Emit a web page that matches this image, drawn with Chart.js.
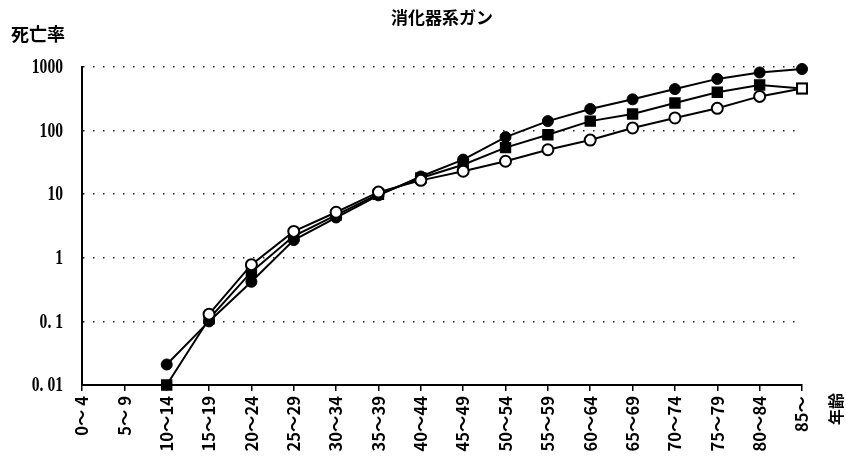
<!DOCTYPE html>
<html lang="ja">
<head>
<meta charset="utf-8">
<title>消化器系ガン</title>
<script src="https://cdn.jsdelivr.net/npm/chart.js@4/dist/chart.umd.min.js"></script>
<style>
  html, body { margin: 0; padding: 0; background: #fff; }
  canvas { display: block; }
</style>
</head>
<body>
<canvas id="chart" width="846" height="457"></canvas>
<script>
// Age groups (x axis)
const ageGroups = ["0～ 4", "5～ 9", "10～14", "15～19", "20～24", "25～29", "30～34", "35～39",
  "40～44", "45～49", "50～54", "55～59", "60～64", "65～69", "70～74", "75～79", "80～84", "85～"];

// Mortality rates per age group
const rateFilledCircle = [null, null, 0.021, 0.10, 0.42, 1.9, 4.3, 9.6, 19, 35, 79, 141, 219, 310, 450, 650, 820, 930];
const rateFilledSquare = [null, null, 0.01, 0.11, 0.6, 2.2, 4.7, 10, 18, 29, 54, 86, 141, 182, 272, 400, 520, 460];
const rateOpenCircle   = [null, null, null, 0.13, 0.78, 2.6, 5.2, 10.8, 16.5, 23, 33, 50, 71, 110, 158, 224, 345, 460];

// Log-scale ticks and their labels
const yTickValues = [0.01, 0.1, 1, 10, 100, 1000];
const yTickLabels = ["0. 01", "0. 1", "1", "10", "100", "1000"];

const chartTitle = "消化器系ガン";
const yAxisTitle = "死亡率";
const xAxisTitle = "年齢";

const lastIdx = ageGroups.length - 1;

const textPlugin = {
  id: "texts",
  afterDraw(chart) {
    const ctx = chart.ctx;
    const area = chart.chartArea;
    const yScale = chart.scales.y;
    ctx.save();
    ctx.fillStyle = "#000";

    // title
    ctx.font = 'bold 17px "Noto Sans CJK JP"';
    ctx.textAlign = "center";
    ctx.textBaseline = "middle";
    ctx.fillText(chartTitle, (area.left + area.right) / 2, 18);

    // y axis title
    ctx.font = 'bold 18px "Noto Sans CJK JP"';
    ctx.textAlign = "left";
    ctx.fillText(yAxisTitle, 11, 34);

    // y tick labels, condensed
    ctx.font = 'bold 20px "Liberation Serif"';
    ctx.textAlign = "right";
    yTickValues.forEach((v, i) => {
      const y = yScale.getPixelForValue(v);
      ctx.save();
      ctx.translate(area.left - 19, y);
      ctx.scale(0.78, 1);
      ctx.fillText(yTickLabels[i], 0, 1);
      ctx.restore();
    });

    // x axis title, rotated like the category labels
    ctx.save();
    ctx.translate(836, 393);
    ctx.rotate(-Math.PI / 2);
    ctx.font = 'bold 16px "Noto Sans CJK JP"';
    ctx.textAlign = "right";
    ctx.fillText(xAxisTitle, 0, 0);
    ctx.restore();

    ctx.restore();
  }
};

new Chart(document.getElementById("chart"), {
  type: "line",
  data: {
    labels: ageGroups,
    datasets: [
      {
        label: "open",
        data: rateOpenCircle,
        order: 0,
        borderColor: "#000",
        borderWidth: 2,
        pointStyle: ageGroups.map((_, i) => i === lastIdx ? "rect" : "circle"),
        pointRadius: ageGroups.map((_, i) => i === lastIdx ? 7 : 5.5),
        pointBackgroundColor: "#fff",
        pointBorderColor: "#000",
        pointBorderWidth: 2,
        tension: 0,
        clip: false
      },
      {
        label: "square",
        data: rateFilledSquare,
        order: 1,
        borderColor: "#000",
        borderWidth: 2,
        pointStyle: "rect",
        pointRadius: 7,
        pointBackgroundColor: ageGroups.map((_, i) => i === lastIdx ? "#fff" : "#000"),
        pointBorderColor: "#000",
        pointBorderWidth: 1.5,
        tension: 0,
        clip: false
      },
      {
        label: "filled",
        data: rateFilledCircle,
        order: 2,
        borderColor: "#000",
        borderWidth: 2,
        pointStyle: "circle",
        pointRadius: 5.5,
        pointBackgroundColor: "#000",
        pointBorderColor: "#000",
        pointBorderWidth: 1,
        tension: 0,
        clip: false
      }
    ]
  },
  options: {
    responsive: false,
    animation: false,
    devicePixelRatio: 1,
    layout: { padding: { top: 67, right: 44, left: 0, bottom: 0 } },
    plugins: {
      legend: { display: false },
      title: { display: false },
      tooltip: { enabled: false }
    },
    scales: {
      x: {
        type: "category",
        offset: false,
        afterFit(scale) { scale.height = 72; },
        grid: {
          display: true,
          drawOnChartArea: false,
          drawTicks: true,
          tickLength: 6,
          color: "#000",
          lineWidth: 1.5,
          offset: false
        },
        border: { display: true, color: "#000", width: 2 },
        ticks: {
          autoSkip: false,
          maxRotation: 90,
          minRotation: 90,
          padding: 5,
          color: "#000",
          font: { family: "'Noto Sans CJK JP'", size: 16.5, weight: "bold" }
        }
      },
      y: {
        type: "logarithmic",
        min: 0.01,
        max: 1000,
        afterBuildTicks(scale) { scale.ticks = yTickValues.map(v => ({ value: v })); },
        afterFit(scale) { scale.width = 82; },
        grid: {
          color: "#222",
          lineWidth: 1.5,
          drawTicks: false
        },
        border: { display: true, color: "#000", width: 2, dash: [1.5, 8.5] },
        ticks: { display: false }
      }
    }
  },
  plugins: [textPlugin]
});
</script>
</body>
</html>
